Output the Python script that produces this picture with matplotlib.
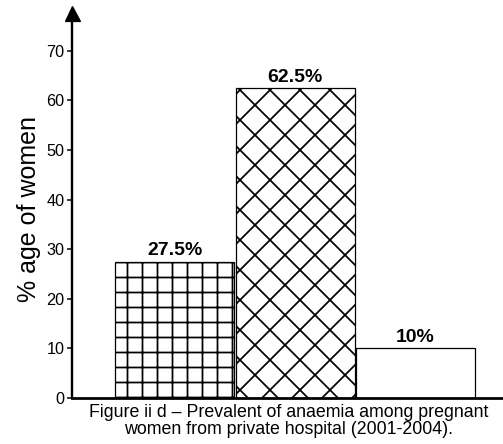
import matplotlib
matplotlib.use("Agg")
import matplotlib.pyplot as plt

categories = ["A", "B", "C"]
values = [27.5, 62.5, 10]
labels = ["27.5%", "62.5%", "10%"]
hatches = ["+", "x", ""]
yticks = [0, 10, 20, 30, 40, 50, 60, 70]
caption = "Figure ii d \u2013 Prevalent of anaemia among pregnant\nwomen from private hospital (2001-2004)."

W, H, DPI = 503, 444, 90
plt.rcParams["font.family"] = ["Liberation Sans", "DejaVu Sans"]
plt.rcParams["hatch.linewidth"] = 1.4
fig = plt.figure(figsize=(W / DPI, H / DPI), dpi=DPI)

left_px, right_px, bottom_px, top_px = 72, 503, 398, 20
ax = fig.add_axes([left_px / W, 1 - bottom_px / H, (right_px - left_px) / W, (bottom_px - top_px) / H])

x = list(range(len(values)))
for xi, v, h, lab in zip(x, values, hatches, labels):
    ax.bar(xi, v, width=0.988, color="white", edgecolor="black", linewidth=1.0, hatch=h, zorder=2)
    ax.text(xi, v + 0.5, lab, ha="center", va="bottom", fontsize=15.5, fontweight="bold")

ax.set_xlim(-0.851, 2.726)
ax.set_ylim(0, (bottom_px - top_px) / 4.96)
ax.set_yticks(yticks)
ax.set_xticks([])
ax.tick_params(axis="y", labelsize=13, length=4, width=1.2, direction="out", pad=2)
for s in ["top", "right"]:
    ax.spines[s].set_visible(False)
ax.spines["left"].set_linewidth(1.9)
ax.spines["bottom"].set_linewidth(2.2)
ax.plot(0, 1 + 7.5 / (bottom_px - top_px), marker="^", color="black", markersize=12,
        transform=ax.transAxes, clip_on=False)

ax.set_ylabel("% age of women", fontsize=20, labelpad=4)

fig.text(289 / W, 1 - 404 / H, caption, ha="center", va="top", fontsize=14.2, linespacing=1.0)

fig.savefig("out.png", dpi=DPI)
